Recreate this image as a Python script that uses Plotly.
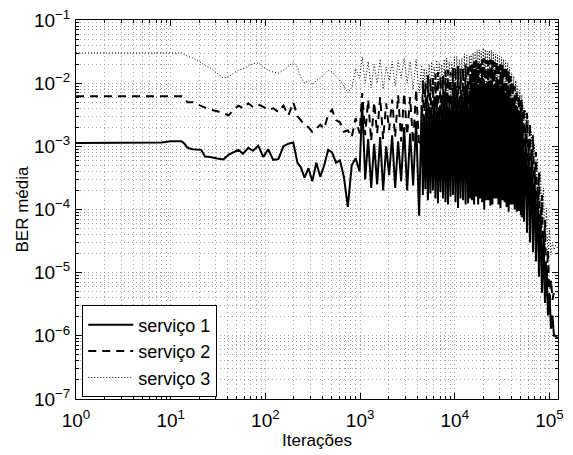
import plotly.graph_objects as go

# ---------------- data ----------------
iteracoes = [
    1, 3, 8, 10, 13, 14, 15, 17, 21, 23, 26, 31, 36, 41, 46, 52, 58, 66, 74, 84,
    95, 107, 121, 137, 155, 175, 197, 218, 236, 259, 285, 313, 345, 380, 418, 460,
    506, 557, 613, 674, 742, 816, 898, 988,
    1052, 1132, 1217, 1309, 1408, 1514, 1629, 1752, 1884, 2027, 2180, 2345, 2522,
    2713, 2918, 3139, 3376, 3631, 3906, 4201,
    4464, 4601, 4746, 4892, 5045, 5200, 5363, 5528, 5701, 5877, 6060, 6247, 6442,
    6640, 6848, 7059, 7279, 7503, 7738, 7976, 8226, 8479, 8744, 9013, 9295, 9581,
    9881, 10185, 10503, 10826, 11165, 11509, 11869, 12234, 12617, 13006, 13412,
    13825, 14257, 14552,
    14852, 15217, 15604, 15988, 16394, 16797, 17224, 17648, 18096, 18541, 19012,
    19480, 19975, 20466, 20986, 21502, 22049, 22591, 23165, 23735, 24338, 24937,
    25570, 26199, 26865, 27526, 28225, 28919, 29654, 30383, 31155, 31921, 32733,
    33538, 34390, 35236, 36131, 37020, 37961, 38895, 39883, 40864, 41902, 42933,
    44023, 45106, 46252, 47390, 48594, 49789, 51054, 51478,
    51905, 53830, 55820, 57890, 60040, 62270, 64580, 66970, 69470, 72040, 74710,
    77480, 80370, 83350, 86440, 89640, 92980, 96430, 100000, 103700, 107550,
    111550, 115690, 119970, 123000,
]

ber_servico1 = [
    1.13e-3, 1.13e-3, 1.15e-3, 1.2e-3, 1.2e-3, 1.1e-3, 9.5e-4, 9.0e-4, 8.8e-4, 6.9e-4,
    6.8e-4, 6.4e-4, 6.2e-4, 7.4e-4, 8.0e-4, 8.8e-4, 7.6e-4, 9.5e-4, 8.5e-4, 1.02e-3,
    6.8e-4, 9.0e-4, 6.1e-4, 6.3e-4, 1.0e-3, 1.1e-3, 1.15e-3, 5.5e-4, 4.7e-4, 3.2e-4,
    4.5e-4, 2.8e-4, 5.5e-4, 3.3e-4, 5.0e-4, 8.8e-4, 8.0e-4, 5.5e-4, 6.0e-4, 3.3e-4,
    1.1e-4, 5.0e-4, 6.5e-4, 4.0e-4,
    5.0e-3, 3.0e-4, 1.3e-3, 2.2e-4, 1.1e-3, 2.5e-4, 1.4e-3, 2.0e-4, 1.0e-3, 3.5e-4,
    1.5e-3, 2.2e-4, 1.2e-3, 2.8e-4, 2.0e-3, 2.0e-4, 1.6e-3, 2.4e-4, 2.5e-3, 8.0e-5,
    4.5e-3, 1.7e-4, 3.0e-3, 2.1e-4, 5.4e-3, 1.4e-4, 3.8e-3, 1.8e-4, 4.1e-3, 2.0e-4,
    6.0e-3, 1.5e-4, 6.5e-3, 1.25e-4, 4.2e-3, 1.9e-4, 5.4e-3, 1.5e-4, 7.0e-3, 1.3e-4,
    7.2e-3, 1.2e-4, 5.0e-3, 1.6e-4, 6.3e-3, 1.7e-4, 8.0e-3, 1.3e-4, 7.8e-3, 1.06e-4,
    6.0e-3, 1.5e-4, 6.7e-3, 1.4e-4, 9.0e-3, 1.2e-4, 8.4e-3, 1.25e-4, 7.5e-3, 1.5e-4,
    9.4e-3, 1.4e-4, 1.0e-2, 1.2e-4, 1.1e-2, 1.6e-4, 9.0e-3, 1.2e-4, 9.4e-3, 1.5e-4,
    1.15e-2, 1.3e-4, 1.2e-2, 9.9e-5, 1.0e-2, 1.4e-4, 1.05e-2, 1.4e-4, 1.1e-2, 1.15e-4,
    1.1e-2, 1.2e-4, 9.5e-3, 1.5e-4, 9.0e-3, 1.5e-4, 9.5e-3, 1.2e-4, 8.4e-3, 1.06e-4,
    8.0e-3, 1.4e-4, 7.8e-3, 1.3e-4, 7.2e-3, 1.1e-4, 6.7e-3, 9.2e-5, 6.0e-3, 1.2e-4,
    5.4e-3, 1.2e-4, 5.0e-3, 1.0e-4, 4.5e-3, 9.2e-5, 3.8e-3, 9.5e-5, 3.1e-3, 8.2e-5,
    2.8e-3, 7.5e-5,
    2.3e-3, 6.4e-5, 1.95e-3, 4.3e-5, 1.3e-3, 3.0e-5, 8.8e-4, 2.1e-5, 4.7e-4, 1.5e-5,
    2.3e-4, 8.6e-6, 9.9e-5, 4.8e-6, 4.0e-5, 3.3e-6, 1.3e-5, 2.1e-6, 4.5e-6, 1.3e-6,
    2.1e-6, 1.0e-6, 1.0e-6, 9.3e-7, 9.3e-7,
]

ber_servico2 = [
    6.2e-3, 6.2e-3, 6.2e-3, 6.2e-3, 6.2e-3, 5.8e-3, 5.0e-3, 5.0e-3, 4.3e-3, 4.1e-3,
    3.8e-3, 3.6e-3, 3.3e-3, 3.1e-3, 3.8e-3, 4.4e-3, 4.0e-3, 4.8e-3, 4.2e-3, 4.6e-3,
    4.2e-3, 3.8e-3, 4.0e-3, 3.5e-3, 4.4e-3, 3.1e-3, 5.0e-3, 3.0e-3, 2.6e-3, 2.2e-3,
    2.0e-3, 1.7e-3, 1.9e-3, 2.2e-3, 1.9e-3, 3.2e-3, 3.8e-3, 2.6e-3, 2.4e-3, 1.7e-3,
    1.8e-3, 1.4e-3, 2.8e-3, 1.6e-3,
    7.0e-3, 1.5e-3, 5.5e-3, 1.2e-3, 5.0e-3, 1.6e-3, 6.0e-3, 1.3e-3, 4.8e-3, 1.8e-3,
    5.5e-3, 1.4e-3, 6.5e-3, 1.2e-3, 7.0e-3, 1.5e-3, 6.0e-3, 1.1e-3, 8.0e-3, 1.0e-3,
    1.3e-3, 1.12e-2, 1.6e-3, 1.0e-2, 1.5e-3, 1.35e-2, 1.1e-3, 1.2e-2, 1.05e-3, 1.2e-2,
    1.3e-3, 1.4e-2, 1.4e-3, 1.5e-2, 1.0e-3, 1.3e-2, 1.2e-3, 1.3e-2, 1.1e-3, 1.6e-2,
    9.4e-4, 1.62e-2, 1.2e-3, 1.5e-2, 1.05e-3, 1.74e-2, 9.0e-4, 1.8e-2, 8.8e-4, 1.87e-2,
    1.1e-3, 1.7e-2, 1.0e-3, 1.74e-2, 9.0e-4, 2.0e-2, 8.8e-4, 2.0e-2, 1.0e-3, 1.9e-2,
    8.8e-4, 2.0e-2, 1.0e-3, 2.2e-2, 1.05e-3, 2.3e-2, 8.0e-4, 2.1e-2, 7.3e-4, 2.2e-2,
    9.0e-4, 2.4e-2, 9.4e-4, 2.5e-2, 8.5e-4, 2.3e-2, 8.1e-4, 2.3e-2, 9.0e-4, 2.4e-2,
    8.8e-4, 2.3e-2, 7.5e-4, 2.2e-2, 7.0e-4, 2.2e-2, 8.0e-4, 2.1e-2, 8.1e-4, 2.0e-2,
    7.0e-4, 1.95e-2, 6.5e-4, 1.87e-2, 6.8e-4, 1.75e-2, 6.1e-4, 1.6e-2, 5.5e-4, 1.3e-2,
    5.1e-4, 1.05e-2, 5.0e-4, 9.0e-3, 4.5e-4, 7.8e-3, 4.4e-4, 6.5e-3, 4.2e-4, 5.4e-3,
    4.6e-4, 4.6e-3,
    5.1e-4, 4.1e-3, 3.5e-4, 3.4e-3, 2.3e-4, 2.3e-3, 1.6e-4, 1.5e-3, 9.2e-5, 8.1e-4,
    4.7e-5, 3.9e-4, 2.3e-5, 1.7e-4, 1.2e-5, 6.8e-5, 5.3e-6, 2.3e-5, 3.1e-6, 7.7e-6,
    3.7e-6, 5.0e-6, 4.8e-6, 5.0e-6, 5.0e-6,
]

ber_servico3 = [
    3.0e-2, 3.0e-2, 3.0e-2, 3.0e-2, 3.0e-2, 2.8e-2, 2.7e-2, 2.5e-2, 2.1e-2, 1.9e-2,
    1.75e-2, 1.45e-2, 1.2e-2, 1.25e-2, 1.45e-2, 1.6e-2, 1.7e-2, 1.85e-2, 2.05e-2, 2.1e-2,
    1.8e-2, 1.6e-2, 1.5e-2, 1.45e-2, 1.6e-2, 1.85e-2, 2.15e-2, 1.8e-2, 1.25e-2, 1.0e-2,
    1.1e-2, 9.5e-3, 1.1e-2, 1.2e-2, 1.4e-2, 1.6e-2, 1.5e-2, 1.3e-2, 1.1e-2, 9.0e-3,
    7.0e-3, 8.5e-3, 1.7e-2, 1.2e-2,
    2.6e-2, 1.0e-2, 2.2e-2, 8.5e-3, 2.0e-2, 1.0e-2, 2.4e-2, 8.0e-3, 1.8e-2, 1.1e-2,
    2.2e-2, 9.0e-3, 2.3e-2, 1.2e-2, 2.5e-2, 1.0e-2, 2.2e-2, 8.0e-3, 2.4e-2, 7.0e-3,
    1.94e-2, 6.5e-3, 1.7e-2, 7.5e-3, 1.62e-2, 7.2e-3, 2.0e-2, 6.0e-3, 2.17e-2, 5.8e-3,
    1.8e-2, 7.0e-3, 2.33e-2, 7.8e-3, 2.1e-2, 6.5e-3, 2.0e-2, 6.3e-3, 2.4e-2, 6.0e-3,
    2.5e-2, 7.2e-3, 2.2e-2, 5.5e-3, 2.17e-2, 5.4e-3, 2.6e-2, 6.2e-3, 2.7e-2, 6.5e-3,
    2.4e-2, 5.0e-3, 2.5e-2, 5.8e-3, 2.9e-2, 5.5e-3, 2.8e-2, 5.4e-3, 2.7e-2, 6.0e-3,
    2.8e-2, 5.4e-3, 3.0e-2, 6.0e-3, 3.1e-2, 6.5e-3, 3.3e-2, 5.0e-3, 3.35e-2, 4.5e-3,
    3.2e-2, 5.5e-3, 3.6e-2, 5.8e-3, 3.4e-2, 5.2e-3, 3.2e-2, 5.0e-3, 3.3e-2, 5.5e-3,
    3.35e-2, 6.3e-3, 3.1e-2, 5.0e-3, 2.9e-2, 4.7e-3, 2.8e-2, 5.0e-3, 2.7e-2, 5.4e-3,
    2.6e-2, 4.8e-3, 2.4e-2, 4.4e-3, 2.3e-2, 4.0e-3, 2.1e-2, 3.8e-3, 1.8e-2, 3.2e-3,
    1.45e-2, 2.8e-3, 1.3e-2, 2.5e-3, 1.1e-2, 2.2e-3, 9.0e-3, 2.0e-3, 7.8e-3, 1.8e-3,
    6.5e-3, 1.6e-3,
    5.4e-3, 1.5e-3, 3.8e-3, 1.1e-3, 2.6e-3, 7.3e-4, 1.7e-3, 4.5e-4, 1.05e-3, 2.3e-4,
    6.5e-4, 1.06e-4, 3.9e-4, 5.1e-5, 2.2e-4, 1.9e-5, 1.06e-4, 1.7e-5, 5.1e-5, 1.9e-5,
    3.0e-5, 2.3e-5, 2.7e-5, 2.5e-5, 2.5e-5,
]

nomes = ["serviço 1", "serviço 2", "serviço 3"]
x_titulo = "Iterações"
y_titulo = "BER média"
x_ticks = [1, 10, 100, 1000, 10000, 100000]
x_ticktext = ["10<sup>0</sup>", "10<sup>1</sup>", "10<sup>2</sup>", "10<sup>3</sup>",
              "10<sup>4</sup>", "10<sup>5</sup>"]
y_ticks = [1e-7, 1e-6, 1e-5, 1e-4, 1e-3, 1e-2, 1e-1]
y_ticktext = ["10<sup>\u22127</sup>", "10<sup>\u22126</sup>", "10<sup>\u22125</sup>",
              "10<sup>\u22124</sup>", "10<sup>\u22123</sup>", "10<sup>\u22122</sup>",
              "10<sup>\u22121</sup>"]

# ---------------- figure ----------------
FONT = "Liberation Sans, Arial, Helvetica, sans-serif"
estilos = [
    dict(color="black", width=2, dash="solid"),
    dict(color="black", width=2, dash="8px,6px"),
    dict(color="black", width=1, dash="1px,2px"),
]

fig = go.Figure()
for nome, ys, est in zip(nomes, [ber_servico1, ber_servico2, ber_servico3], estilos):
    fig.add_trace(go.Scatter(x=iteracoes, y=ys, mode="lines", name=nome, line=est,
                             hoverinfo="skip"))

grade = dict(showgrid=True, gridcolor="#a0a0a0", gridwidth=1, griddash="1px,3px")
eixo = dict(
    type="log", tickmode="array",
    showline=True, linecolor="black", linewidth=1, mirror="allticks",
    ticks="inside", ticklen=6, tickcolor="black", tickwidth=1,
    zeroline=False, automargin=False,
    tickfont=dict(family=FONT, size=19, color="black"),
    minor=dict(dtick="D1", ticks="inside", ticklen=3, tickcolor="black",
               **grade),
    **grade,
)

fig.update_xaxes(range=[0, 5.0899], tickvals=x_ticks, ticktext=x_ticktext,
                 ticklabelstandoff=4,
                 title=dict(text=x_titulo, standoff=0,
                            font=dict(family=FONT, size=17, color="black")), **eixo)
fig.update_yaxes(range=[-7, -1], tickvals=y_ticks, ticktext=y_ticktext,
                 ticklabelstandoff=1,
                 title=dict(text=y_titulo, standoff=0,
                            font=dict(family=FONT, size=17, color="black")), **eixo)

fig.update_layout(
    width=573, height=455,
    margin=dict(l=76, r=15, t=20, b=56),
    paper_bgcolor="white", plot_bgcolor="white",
    font=dict(family=FONT, color="black"),
    showlegend=True,
    legend=dict(x=0.013, y=0.004, xanchor="left", yanchor="bottom",
                bgcolor="white", bordercolor="black", borderwidth=1,
                font=dict(family=FONT, size=18, color="black"),
                itemwidth=45, tracegroupgap=0),
)

fig.write_html("out.html", config={"displayModeBar": False},
               post_script="document.body.style.margin='0px';")
